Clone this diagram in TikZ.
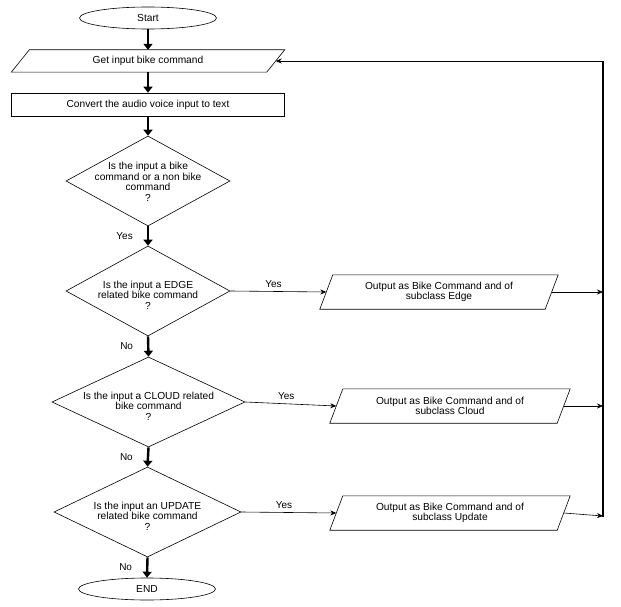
\documentclass[tikz,border=0pt]{standalone}
\usepackage{fontspec}
\setmainfont{Liberation Sans}
\usetikzlibrary{shapes.geometric,arrows.meta}
\begin{document}
\begin{tikzpicture}[x=1pt,y=-1pt,font=\fontsize{10.2}{10.6}\selectfont,
  every node/.style={inner sep=0pt},
  base/.style={draw,line width=0.6pt},
  term/.style={base,ellipse,minimum width=137,minimum height=22},
  io/.style={rectangle,minimum width=#1},
  dia/.style={base,diamond,minimum width=#1,minimum height=90},
  txt/.style={align=center},
  main/.style={line width=2.4pt,-{Triangle[length=6pt,width=9pt]}},
  side/.style={line width=0.6pt,-{Stealth[length=6pt,width=5pt]}},
  lab/.style={font=\fontsize{10}{11}\selectfont},
  slant/.style={line width=0.6pt}]
\useasboundingbox (0,0) rectangle (621,607);
\node[term] (start) at (148,18) {Start};
\node[io=273,minimum height=22] (get) at (148,61) {Get input bike command};
\draw[slant] ([xshift=18pt]get.north west) -- (get.north east) -- ([xshift=-18pt]get.south east) -- (get.south west) -- cycle;
\node[base,rectangle,minimum width=273,minimum height=23] (conv) at (148,104.5) {Convert the audio voice input to text};
\node[dia=164] (d1) at (148,181) {};
\node[txt] at (148,182) {Is the input a bike\\command or a non bike\\command\\?};
\node[dia=164] (d2) at (148,291) {};
\node[txt] at (148,295) {Is the input a EDGE\\related bike command\\?};
\node[dia=193] (d3) at (148.5,402) {};
\node[txt] at (148.5,406) {Is the input a CLOUD related\\bike command\\?};
\node[dia=187] (d4) at (147.5,512) {};
\node[txt] at (147.5,516) {Is the input an UPDATE\\related bike command\\?};
\node[term] (end) at (147,589) {END};
\node[io=238,minimum height=34,txt] (o1) at (439,292) {Output as Bike Command and of\\subclass Edge};
\node[io=240,minimum height=34,txt] (o2) at (450,406) {Output as Bike Command and of\\subclass Cloud};
\node[io=240,minimum height=34,txt] (o3) at (450,513) {Output as Bike Command and of\\subclass Update};
\foreach \o in {o1,o2,o3}
  \draw[slant] ([xshift=13pt]\o.north west) -- (\o.north east) -- ([xshift=-13pt]\o.south east) -- (\o.south west) -- cycle;
\coordinate (top) at (603,61);
\coordinate (bot) at (603,517);
\coordinate (e1) at (603,292);
\coordinate (e2) at (603,406);
\coordinate (e3) at (603,516);
\draw[main] (start) -- (get);
\draw[main] (get) -- (conv);
\draw[main] (conv) -- (d1.north);
\draw[main] (d1.south) -- (d2.north) node[pos=0.5,left=14pt,lab] {Yes};
\draw[main] (d2.south) -- (d3.north) node[pos=0.5,left=14pt,lab] {No};
\draw[main] (d3.south) -- (d4.north) node[pos=0.5,left=14pt,lab] {No};
\draw[main] (d4.south) -- (end.north) node[pos=0.5,left=14pt,lab] {No};
\draw[side] (d2.east) -- ([xshift=6.5pt]o1.west) node[pos=0.45,above=4pt,lab] {Yes};
\draw[side] (d3.east) -- ([xshift=6.5pt]o2.west) node[pos=0.45,above=4pt,lab] {Yes};
\draw[side] (d4.east) -- ([xshift=6.5pt]o3.west) node[pos=0.45,above=4pt,lab] {Yes};
\draw[side] ([xshift=-6.5pt]o1.east) -- (e1);
\draw[side] ([xshift=-6.5pt]o2.east) -- (e2);
\draw[side] ([xshift=-6.5pt]o3.east) -- (e3);
\draw[line width=2pt] (bot) -- (top);
\draw[side] (top) -- ([xshift=-9pt]get.east);
\end{tikzpicture}
\end{document}
